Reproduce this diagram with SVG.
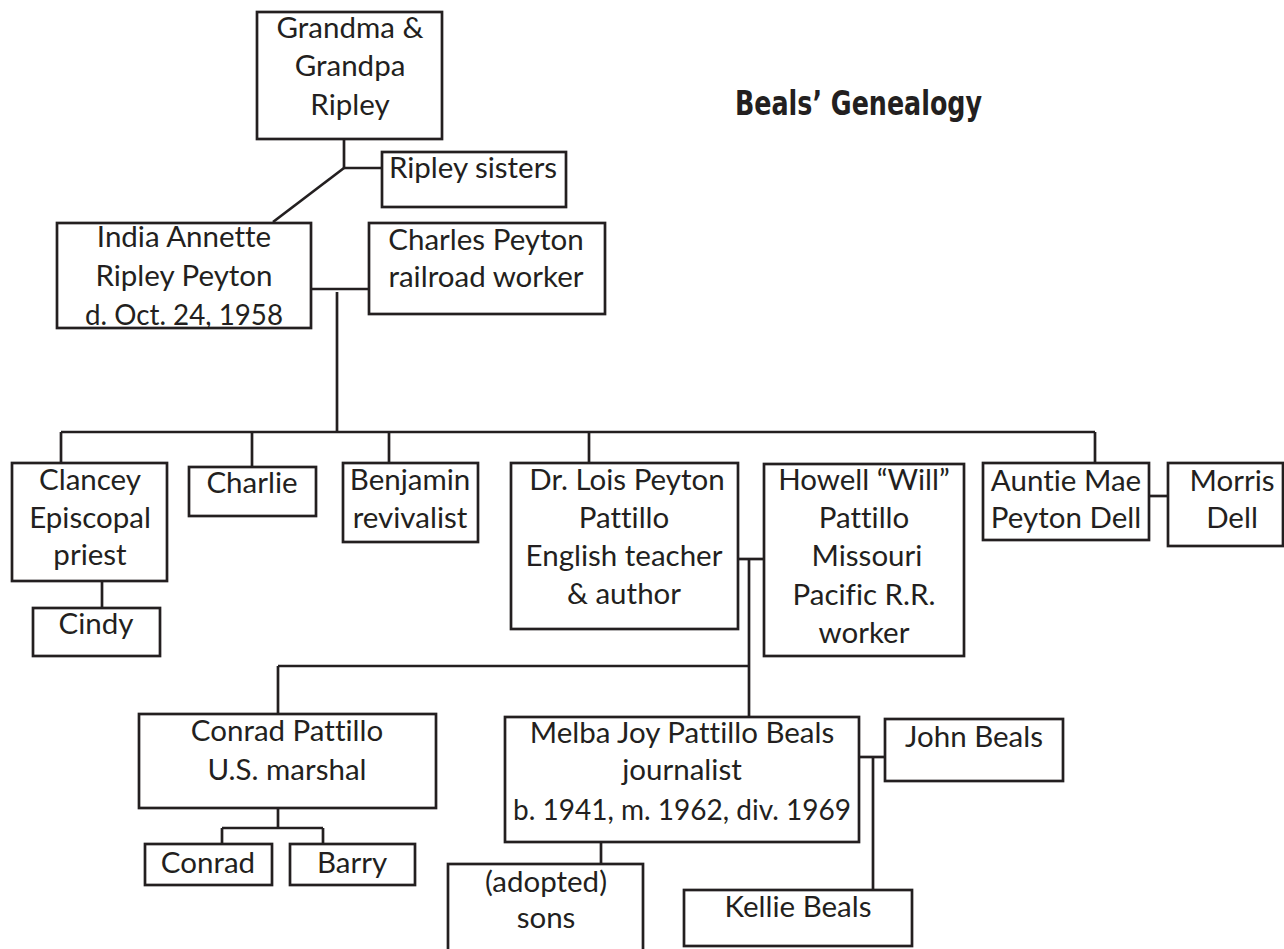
<svg xmlns="http://www.w3.org/2000/svg" width="1284" height="949" viewBox="0 0 1284 949">
<style>
rect{fill:#fff;stroke:#231f20;stroke-width:2.7}
.c line{stroke:#231f20;stroke-width:2.7;fill:none}
text{font-family:"Lato","Open Sans",sans-serif;font-size:29.5px;fill:#231f20;text-anchor:middle;font-variant-ligatures:none}
.t{font-family:"Liberation Sans Narrow","DejaVu Sans Condensed","Liberation Sans",sans-serif;font-stretch:condensed;font-weight:bold;font-size:34px;text-anchor:start}
</style>
<rect x="0" y="0" width="1284" height="949" style="stroke:none"/>
<g class="c" id="connectors">
<line x1="344" y1="139" x2="344" y2="168"/>
<line x1="344" y1="168" x2="382" y2="168"/>
<line x1="344" y1="168" x2="273" y2="222"/>
<line x1="311" y1="289" x2="369" y2="289"/>
<line x1="337" y1="292" x2="337" y2="432"/>
<line x1="61" y1="432" x2="1095" y2="432"/>
<line x1="61" y1="432" x2="61" y2="463"/>
<line x1="252" y1="432" x2="252" y2="467"/>
<line x1="389" y1="432" x2="389" y2="463"/>
<line x1="589" y1="432" x2="589" y2="463"/>
<line x1="1095" y1="432" x2="1095" y2="463"/>
<line x1="102" y1="581" x2="102" y2="608"/>
<line x1="738" y1="559" x2="764" y2="559"/>
<line x1="749" y1="559" x2="749" y2="717"/>
<line x1="278" y1="666" x2="749" y2="666"/>
<line x1="278" y1="666" x2="278" y2="714"/>
<line x1="1149" y1="496" x2="1168" y2="496"/>
<line x1="278" y1="808" x2="278" y2="828"/>
<line x1="222" y1="828" x2="323" y2="828"/>
<line x1="222" y1="828" x2="222" y2="844"/>
<line x1="323" y1="828" x2="323" y2="844"/>
<line x1="859" y1="757" x2="885" y2="757"/>
<line x1="873" y1="757" x2="873" y2="890"/>
<line x1="601" y1="842" x2="601" y2="864"/>
</g>
<g id="title"><text class="t" x="735" y="115" textLength="247" lengthAdjust="spacingAndGlyphs">Beals’ Genealogy</text></g>
<g id="grandparents"><rect x="257" y="12" width="185" height="127"/><text x="350" y="38">Grandma &amp;</text><text x="350" y="76">Grandpa</text><text x="350" y="115">Ripley</text></g>
<g id="ripley-sisters"><rect x="382" y="152" width="184" height="55"/><text x="473" y="178">Ripley sisters</text></g>
<g id="india"><rect x="57" y="223" width="254" height="105"/><text x="184" y="247">India Annette</text><text x="184" y="286">Ripley Peyton</text><text x="184" y="325" textLength="198" lengthAdjust="spacingAndGlyphs">d. Oct. 24, 1958</text></g>
<g id="charles"><rect x="369" y="223" width="236" height="91"/><text x="486" y="250">Charles Peyton</text><text x="486" y="287">railroad worker</text></g>
<g id="clancey"><rect x="12" y="463" width="155" height="118"/><text x="90" y="490">Clancey</text><text x="90" y="528">Episcopal</text><text x="90" y="565">priest</text></g>
<g id="cindy"><rect x="33" y="608" width="127" height="48"/><text x="96" y="634">Cindy</text></g>
<g id="charlie"><rect x="189" y="467" width="127" height="49"/><text x="252" y="493">Charlie</text></g>
<g id="benjamin"><rect x="343" y="463" width="135" height="79"/><text x="410" y="490">Benjamin</text><text x="410" y="528">revivalist</text></g>
<g id="lois"><rect x="511" y="463" width="227" height="166"/><text x="627" y="490">Dr. Lois Peyton</text><text x="624" y="528">Pattillo</text><text x="624" y="566">English teacher</text><text x="624" y="604">&amp; author</text></g>
<g id="will"><rect x="764" y="464" width="200" height="192"/><text x="864" y="490">Howell “Will”</text><text x="864" y="528">Pattillo</text><text x="867" y="566">Missouri</text><text x="864" y="605">Pacific R.R.</text><text x="864" y="643">worker</text></g>
<g id="auntie"><rect x="983" y="463" width="166" height="77"/><text x="1066" y="491">Auntie Mae</text><text x="1066" y="528">Peyton Dell</text></g>
<g id="morris"><rect x="1168" y="463" width="115" height="83"/><text x="1232" y="491">Morris</text><text x="1232" y="528">Dell</text></g>
<g id="conrad-pattillo"><rect x="139" y="714" width="297" height="94"/><text x="287" y="741">Conrad Pattillo</text><text x="287" y="780">U.S. marshal</text></g>
<g id="conrad"><rect x="145" y="844" width="127" height="41"/><text x="208" y="873">Conrad</text></g>
<g id="barry"><rect x="290" y="844" width="125" height="41"/><text x="352" y="873">Barry</text></g>
<g id="melba"><rect x="505" y="717" width="354" height="125"/><text x="682" y="743">Melba Joy Pattillo Beals</text><text x="682" y="780">journalist</text><text x="682" y="820" textLength="338" lengthAdjust="spacingAndGlyphs">b. 1941, m. 1962, div. 1969</text></g>
<g id="john"><rect x="885" y="719" width="178" height="62"/><text x="974" y="747">John Beals</text></g>
<g id="adopted"><rect x="448" y="864" width="195" height="100"/><text x="546" y="892">(adopted)</text><text x="546" y="928">sons</text></g>
<g id="kellie"><rect x="684" y="890" width="228" height="56"/><text x="798" y="917">Kellie Beals</text></g>
</svg>
